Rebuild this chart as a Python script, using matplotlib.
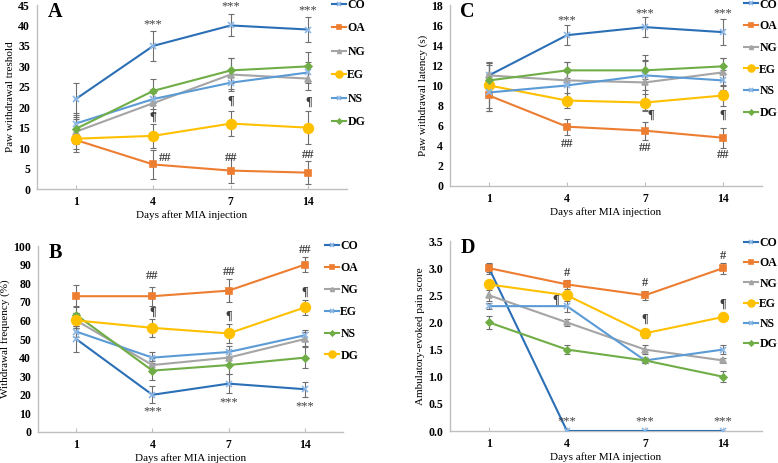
import matplotlib.pyplot as plt
import numpy as np

plt.rcParams['font.family'] = ['Liberation Serif', 'DejaVu Serif']
plt.rcParams['font.weight'] = 'bold'

days = ["1", "4", "7", "14"]
xlabel = "Days after MIA injection"
groups = ["CO", "OA", "NG", "EG", "NS", "DG"]

# panel A - paw withdrawal threshold
a_means = [[22, 35, 40, 39],
           [12, 6, 4.5, 4],
           [14, 21, 28, 27],
           [12.3, 13, 16, 15],
           [16, 22, 26, 28.5],
           [14.7, 24, 29, 30]]
a_errs = [[4, 3.6, 2.7, 3],
          [3, 3.5, 3, 2.8],
          [3, 2.5, 4, 2.8],
          [2.5, 3, 3, 4],
          [2.5, 2.5, 1.5, 2.5],
          [3, 3, 3, 3.5]]
a_notes = [("***", 1, 40.3, 0), ("***", 2, 44.6, 0), ("***", 3, 43.8, 0),
           ("¶", 1, 17.7, 0), ("¶", 2, 21.7, 0), ("¶", 3, 21.3, 0),
           ("##", 1, 7.6, 0.15), ("##", 2, 7.6, 0), ("##", 3, 8.4, 0)]

# panel C - paw withdrawal latency
c_means = [[11, 15, 15.8, 15.3],
           [9, 5.9, 5.5, 4.8],
           [11, 10.5, 10.3, 11.3],
           [10, 8.5, 8.3, 9],
           [9.3, 10, 11, 10.5],
           [10.5, 11.5, 11.5, 11.9]]
c_errs = [[1.2, 1, 1, 1.3],
          [1.5, 0.8, 0.9, 1],
          [1.3, 1.8, 2.7, 1.4],
          [2.2, 0.7, 0.8, 1],
          [1.8, 1.3, 1.5, 1],
          [1.5, 0.8, 0.9, 0.8]]
c_notes = [("***", 1, 16.5, 0), ("***", 2, 17.2, 0), ("***", 3, 17.2, 0),
           ("¶", 2, 7.05, 0.07), ("¶", 3, 7.05, 0),
           ("##", 1, 4.2, 0), ("##", 2, 3.75, 0), ("##", 3, 3.1, 0)]

# panel B - withdrawal frequency
b_means = [[50, 20, 26, 23],
           [73, 73, 76, 90],
           [60, 36, 40, 50],
           [54, 40, 43, 52],
           [63, 33, 36, 40],
           [60, 56, 53, 67]]
b_errs = [[7, 4.5, 5, 4],
          [6, 5, 6, 4],
          [4, 4, 4, 4],
          [3, 3, 3, 3],
          [5, 5, 5, 5.5],
          [4, 5, 5, 4]]
b_notes = [("##", 1, 84, 0), ("##", 2, 86, 0), ("##", 3, 97.8, 0),
           ("¶", 1, 64.8, 0), ("¶", 2, 62.6, 0), ("¶", 3, 75.5, 0),
           ("***", 1, 11, 0), ("***", 2, 16, 0), ("***", 3, 13.8, 0)]

# panel D - ambulatory-evoked pain score
d_means = [[3.0, 0, 0, 0],
           [3.0, 2.7, 2.5, 3.0],
           [2.5, 2.0, 1.5, 1.3],
           [2.7, 2.5, 1.8, 2.1],
           [2.3, 2.3, 1.3, 1.5],
           [2.0, 1.5, 1.3, 1.0]]
d_errs = [[0.08, 0, 0, 0],
          [0.1, 0.09, 0.08, 0.1],
          [0.1, 0.07, 0.09, 0.05],
          [0.06, 0.05, 0.08, 0.06],
          [0.06, 0.1, 0.05, 0.08],
          [0.12, 0.08, 0.05, 0.1]]
d_notes = [("#", 1, 2.91, 0), ("#", 2, 2.72, 0), ("#", 3, 3.22, 0),
           ("¶", 1, 2.41, -0.15), ("¶", 2, 2.06, 0), ("¶", 3, 2.34, 0),
           ("***", 1, 0.18, 0), ("***", 2, 0.18, 0), ("***", 3, 0.18, 0)]

# line colour, marker, marker size, marker colour
CO = ("#2B6FB6", "x", 5, "#8DB8E6")
OA = ("#ED7D31", "s", 4, "#ED7D31")
NG = ("#A5A5A5", "^", 4, "#A5A5A5")
EG = ("#FFC000", "o", 7, "#FFC000")
NS = ("#5B9BD5", "x", 4, "#8DB8E6")
DG = ("#70AD47", "D", 3.5, "#70AD47")
std_styles = [CO, OA, NG, EG, NS, DG]
b_styles = [CO, OA, NG, NS, DG, EG]

W, H = 778, 463


def px_box(l, r, b, t):
    return [l / W, 1 - b / H, (r - l) / W, (b - t) / H]


def draw_panel(fig, box, means, errs, styles, notes, ylim, ystep, ylabel,
               letter, leg_xy, leg_space, yfmt="{:.0f}"):
    ax = fig.add_axes(px_box(*box))
    x = np.arange(len(days))
    handles = []
    for name, m, e, st in zip(groups, means, errs, styles):
        lc, mk, ms, mc = st
        ax.errorbar(x, m, yerr=e, fmt="none", ecolor="#6E6E6E",
                    elinewidth=0.8, capsize=2, capthick=0.8, zorder=2)
        ln, = ax.plot(x, m, color=lc, lw=1.5, marker=mk, ms=ms, mfc=mc,
                      mec=mc, mew=1.2, label=name, zorder=3)
        handles.append(ln)
    for txt, i, y, dx in notes:
        ax.text(i + dx, y, txt, ha="center", va="center", fontsize=9,
                color="#404040", fontweight="normal" if txt == "***" else "bold")
    ax.set_xlim(-0.5, 3.5)
    ax.set_ylim(*ylim)
    yt = np.arange(ylim[0], ylim[1] + ystep / 2, ystep)
    ax.set_yticks(yt)
    ax.set_yticklabels([yfmt.format(v) for v in yt])
    ax.set_xticks(x)
    ax.set_xticklabels(days)
    ax.tick_params(axis="y", length=0, labelsize=8.5, pad=5)
    ax.tick_params(axis="x", direction="in", length=3, color="#BFBFBF",
                   labelsize=8.5, pad=5)
    for s in ["top", "right"]:
        ax.spines[s].set_visible(False)
    for s in ["left", "bottom"]:
        ax.spines[s].set_color("#BFBFBF")
        ax.spines[s].set_linewidth(1)
    ax.set_xlabel(xlabel, fontsize=8, labelpad=1.5)
    ax.set_ylabel(ylabel, fontsize=8, labelpad=2)
    ax.annotate(letter, xy=(0, 1), xycoords="axes fraction",
                xytext=(7.5, -5), textcoords="offset points",
                fontsize=14.5, fontweight="bold", va="center", ha="left")
    fig.legend(handles=handles, loc="upper left",
               bbox_to_anchor=(leg_xy[0] / W, 1 - leg_xy[1] / H),
               frameon=False, fontsize=8.5, labelspacing=leg_space,
               handlelength=1.2, handletextpad=0.1, borderpad=0,
               borderaxespad=0, markerscale=0.7)
    return ax


fig = plt.figure(figsize=(7.78, 4.63), dpi=100)

draw_panel(fig, (37, 347, 189, 5), a_means, a_errs, std_styles, a_notes,
           (0, 45), 5, "Paw withdrawal treshold", "A", (332, -1), 0.97)
draw_panel(fig, (450, 762, 186, 5), c_means, c_errs, std_styles, c_notes,
           (0, 18), 2, "Paw withdrawal latency (s)", "C", (744, -1.5), 0.82)
draw_panel(fig, (38, 343, 432, 246), b_means, b_errs, b_styles, b_notes,
           (0, 100), 10, "Withdrawal frequency (%)", "B", (325, 240), 0.84)
draw_panel(fig, (450, 762, 431, 241), d_means, d_errs, std_styles, d_notes,
           (0, 3.5), 0.5, "Ambulatory-evoked pain score", "D", (744, 237),
           0.7, yfmt="{:.1f}")

fig.savefig("out.png", dpi=100)
